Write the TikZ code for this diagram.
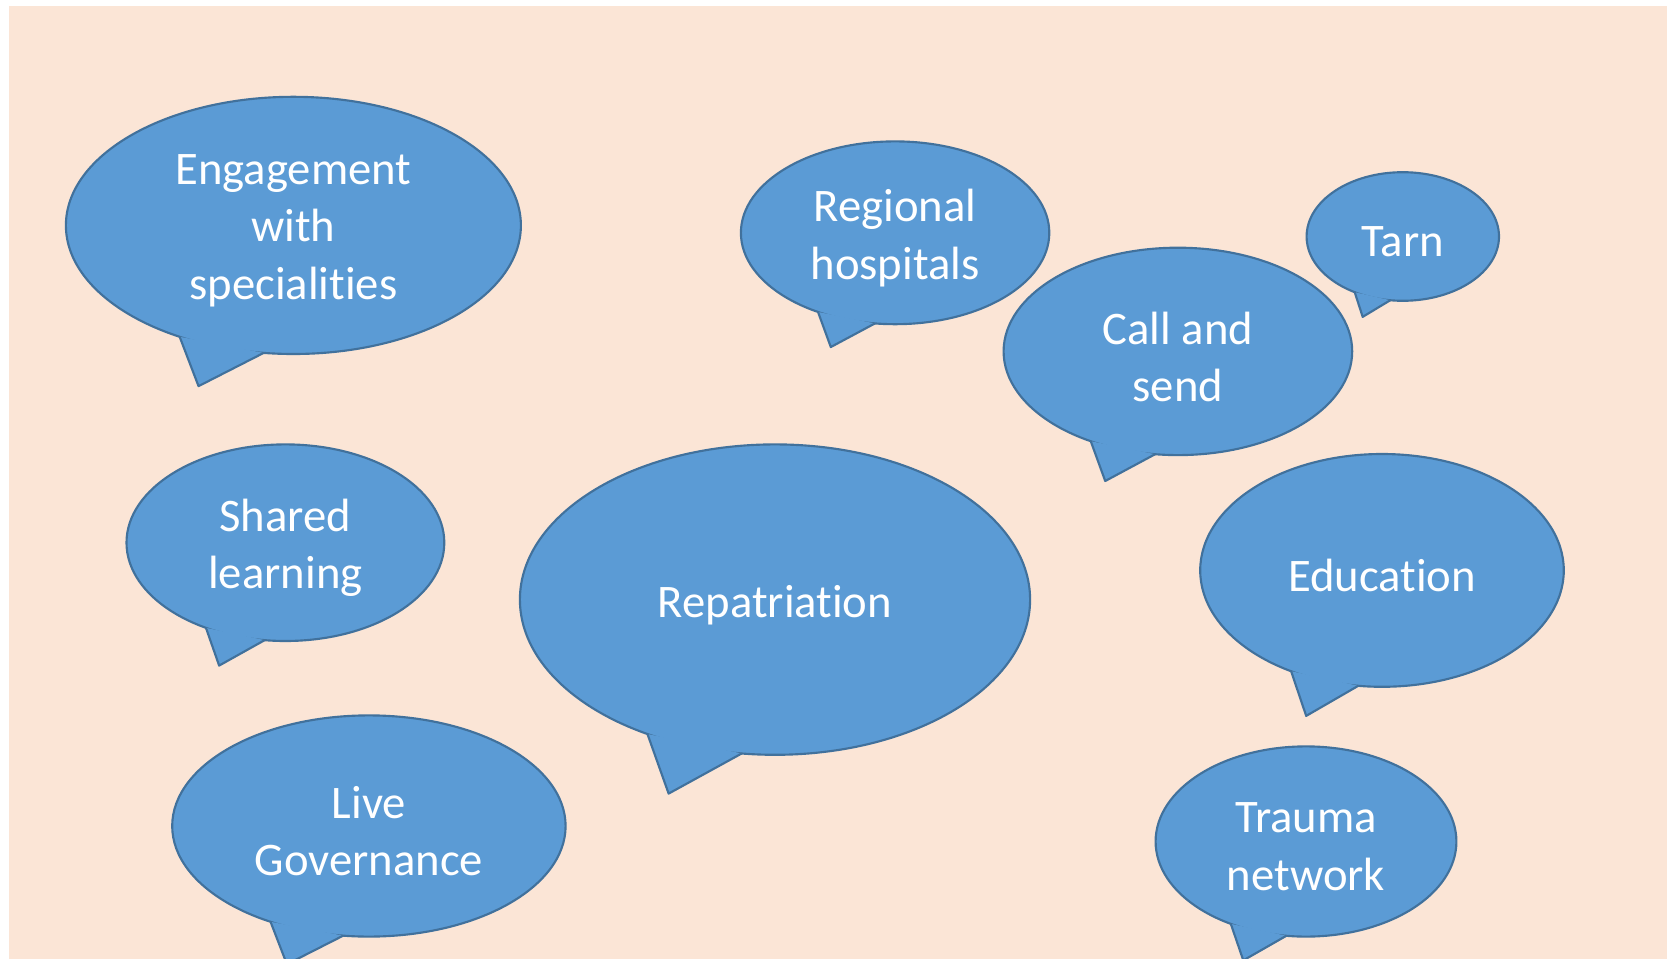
\documentclass[tikz,border=0pt]{standalone}
\usepackage{fontspec}
\setmainfont{Carlito}[Ligatures=NoCommon]
\usepackage{tikz}
\usetikzlibrary{positioning}

\definecolor{slidebg}{HTML}{FBE5D6}
\definecolor{bubblefill}{HTML}{5B9BD5}
\definecolor{bubbleline}{HTML}{41719C}

% speech bubble: name, centre x, centre y, radius x, radius y, text
\newcommand{\speech}[6]{%
  \begin{scope}[shift={(#2,#3)}, xscale=#4, yscale=#5]
    \fill[bubblefill] (120:1) -- (-0.417,1.25) -- (97.5:1) -- cycle;
    \filldraw[bubblefill, draw=bubbleline, line width=1.6pt] (0,0) circle (1);
    \fill[bubblefill] (120:1) -- (-0.417,1.25) -- (97.5:1) -- cycle;
    \draw[bubbleline, line width=1.6pt, line join=round] (120:1) -- (-0.417,1.25) -- (97.5:1);
  \end{scope}
  \node[bubbletext] (#1) at (#2,#3) {#6};%
}

\begin{document}
\begin{tikzpicture}[
  x=0.75pt, y=-0.75pt,
  bubbletext/.style={text=white, align=center, yshift=-4pt, font=\fontsize{35}{43}\selectfont},
]

% --- Slide background ---
\useasboundingbox (0,0) rectangle (1667,959);
\fill[white] (0,0) rectangle (1667,959);
\fill[slidebg] (9,6) rectangle (1667,959);

\begin{scope}
\clip (0,0) rectangle (1667,959);

% --- Left column ---
\speech{eng}{293.4}{225.4}{227.5}{128.6}{Engagement\\with\\specialities}
\speech{shared}{285.4}{542.7}{158.9}{98.3}{Shared\\learning}
\speech{live}{368.9}{826}{196.7}{110.6}{Live\\Governance}

% --- Middle ---
\speech{regional}{895.1}{232.8}{154.2}{91.4}{Regional\\hospitals}
\speech{repat}{775}{599.6}{255.1}{155.2}{Repatriation}

% --- Right column ---
\speech{tarn}{1402.8}{236.5}{96.2}{64.3}{Tarn}
\speech{callsend}{1177.9}{351.4}{174.3}{103.7}{Call and\\send}
\speech{edu}{1382}{570.4}{181.8}{116.4}{Education}
\speech{trauma}{1306}{841.5}{150.4}{95.1}{Trauma\\network}

\end{scope}

\end{tikzpicture}
\end{document}
